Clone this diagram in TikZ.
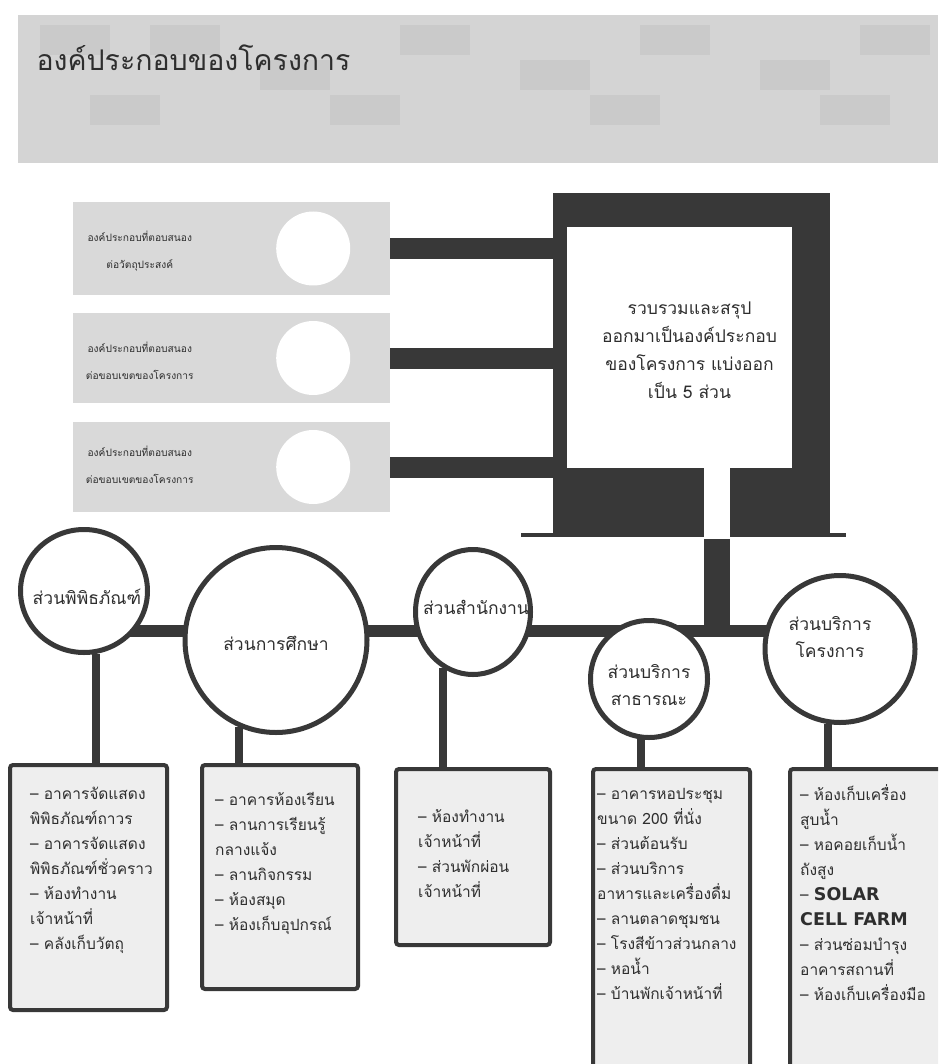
\documentclass[tikz,border=0pt]{standalone}
\usepackage{fontspec}
\newfontfamily\thaifont[Script=Thai]{Loma}
\newfontfamily\latinfont{DejaVu Sans}
\usetikzlibrary{calc,shapes.geometric}

\definecolor{darkfill}{HTML}{383838}
\definecolor{bandgrey}{HTML}{D4D4D4}
\definecolor{tilegrey}{HTML}{CACACA}
\definecolor{panegrey}{HTML}{D9D9D9}
\definecolor{boxgrey}{HTML}{EEEEEE}
\definecolor{inkgrey}{HTML}{2E2E2E}

\begin{document}
\begin{tikzpicture}[x=1pt,y=-1pt,
	bar/.style={draw=darkfill, line width=21pt},
	bus/.style={draw=darkfill, line width=12pt},
	stem/.style={draw=darkfill, line width=8pt},
	trunk/.style={draw=darkfill, line width=26pt},
	pane/.style={fill=panegrey, minimum width=317pt, inner sep=0pt},
	panetext/.style={text=inkgrey, align=center, font=\thaifont\fontsize{10.2}{27}\selectfont},
	part/.style={ellipse, draw=darkfill, line width=5pt, fill=white, inner sep=0pt},
	parttext/.style={text=inkgrey, align=center, font=\thaifont\fontsize{17.5}{27}\selectfont},
	listbox/.style={draw=darkfill, line width=4pt, fill=boxgrey, rounded corners=3pt, anchor=north, inner sep=0pt},
	listtext/.style={anchor=north west, align=left, inner sep=0pt, text=inkgrey, font=\thaifont\fontsize{15.5}{25}\selectfont}
	]
	\useasboundingbox (0,0) rectangle (938,1064);
	\clip (0,0) rectangle (938,1064);
	
	% Title band
	\fill[bandgrey] (18,15) rectangle (938,163);
	\foreach \x/\y in {40/25, 150/25, 260/60, 400/25, 520/60, 640/25, 760/60, 860/25, 90/95, 330/95, 590/95, 820/95}
		\fill[tilegrey] (\x,\y) rectangle ++(70,30);
	\node[anchor=west, text=inkgrey, font=\thaifont\fontsize{28.5}{34}\selectfont] (title) at (33,58) {องค์ประกอบของโครงการ};
	
	% Summary frame
	\fill[darkfill] (553,193) rectangle (830,533);
	\fill[darkfill] (521,533) rectangle (846,537);
	\node[fill=white, minimum width=225pt, minimum height=241pt, inner sep=0pt] (sum) at (679.5,347.5) {};
	\node[text=inkgrey, align=center, font=\thaifont\fontsize{17.5}{28}\selectfont] (sumtext) at ($(sum.center)+(10,3)$)
		{รวบรวมและสรุป\\ออกมาเป็นองค์ประกอบ\\ของโครงการ แบ่งออก\\เป็น 5 ส่วน};
	\fill[white] (704,468) rectangle (730,539);
	\coordinate (notch) at (717,539);
	
	% Left panes
	\node[pane, minimum height=93pt] (lb1) at (231.5,248.5) {};
	\node[pane, minimum height=90pt] (lb2) at (231.5,358) {};
	\node[pane, minimum height=90pt] (lb3) at (231.5,467) {};
	\foreach \n in {1,2,3} {
		\fill[white] ($(lb\n.east)+(-77,0)$) circle (37);
		\draw[bar] (lb\n.east) -- (lb\n.east -| sum.west);
	}
	\node[panetext] (lt1) at ($(lb1.west)+(67,3)$) {องค์ประกอบที่ตอบสนอง\\ต่อวัตถุประสงค์};
	\node[panetext] (lt2) at ($(lb2.west)+(67,3)$) {องค์ประกอบที่ตอบสนอง\\ต่อขอบเขตของโครงการ};
	\node[panetext] (lt3) at ($(lb3.west)+(67,-2)$) {องค์ประกอบที่ตอบสนอง\\ต่อขอบเขตของโครงการ};
	
	% Bus and trunk
	\coordinate (busL) at (84,631);
	\coordinate (busR) at (840,631);
	\draw[bus] (busL) -- (busR);
	\draw[trunk] (notch) -- (notch |- busL);
	
	% Parts
	\node[part, minimum width=127pt, minimum height=123pt] (c1) at (84,591) {};
	\node[part, minimum width=182pt, minimum height=185pt] (c2) at (276,640) {};
	\node[part, minimum width=115pt, minimum height=125pt] (c3) at (473,612) {};
	\node[part, minimum width=117pt, minimum height=117pt] (c4) at (649,679) {};
	\node[part, minimum width=150pt, minimum height=147pt] (c5) at (840,649) {};
	\node[parttext] (c1t) at ($(c1.center)+(3,6)$) {ส่วนพิพิธภัณฑ์};
	\node[parttext] (c2t) at ($(c2.center)+(0,3)$) {ส่วนการศึกษา};
	\node[parttext] (c3t) at ($(c3.center)+(3,-5)$) {ส่วนสำนักงาน};
	\node[parttext] (c4t) at ($(c4.center)+(0,6)$) {ส่วนบริการ\\สาธารณะ};
	\node[parttext] (c5t) at ($(c5.center)+(-10,-12)$) {ส่วนบริการ\\โครงการ};
	
	% Lists
	\node[listbox, minimum width=157pt, minimum height=245pt] (b1) at (88.5,763) {};
	\node[listbox, minimum width=156pt, minimum height=224pt] (b2) at (280,763) {};
	\node[listbox, minimum width=154pt, minimum height=176pt] (b3) at (473,767) {};
	\node[listbox, minimum width=157pt, minimum height=320pt] (b4) at (671.5,767) {};
	\node[listbox, minimum width=160pt, minimum height=320pt] (b5) at (870,767) {};
	\draw[stem] (c1.281) -- (c1.281 |- b1.north);
	\draw[stem] (c2.247) -- (c2.247 |- b2.north);
	\draw[stem] (c3.242) -- (c3.242 |- b3.north);
	\draw[stem] (c4.262) -- (c4.262 |- b4.north);
	\draw[stem] (c5.261) -- (c5.261 |- b5.north);
	
	\node[listtext] (t1) at ($(b1.north west)+(22,24)$)
		{– อาคารจัดแสดง\\พิพิธภัณฑ์ถาวร\\– อาคารจัดแสดง\\พิพิธภัณฑ์ชั่วคราว\\– ห้องทำงาน\\เจ้าหน้าที่\\– คลังเก็บวัตถุ};
	\node[listtext] (t2) at ($(b2.north west)+(15,29)$)
		{– อาคารห้องเรียน\\– ลานการเรียนรู้\\กลางแจ้ง\\– ลานกิจกรรม\\– ห้องสมุด\\– ห้องเก็บอุปกรณ์};
	\node[listtext] (t3) at ($(b3.north west)+(24,42)$)
		{– ห้องทำงาน\\เจ้าหน้าที่\\– ส่วนพักผ่อน\\เจ้าหน้าที่};
	\node[listtext] (t4) at ($(b4.north west)+(6,21)$)
		{– อาคารหอประชุม\\ขนาด 200 ที่นั่ง\\– ส่วนต้อนรับ\\– ส่วนบริการ\\อาหารและเครื่องดื่ม\\– ลานตลาดชุมชน\\– โรงสีข้าวส่วนกลาง\\– หอน้ำ\\– บ้านพักเจ้าหน้าที่};
	\node[listtext] (t5) at ($(b5.north west)+(12,17)$)
		{– ห้องเก็บเครื่อง\\สูบน้ำ\\– หอคอยเก็บน้ำ\\ถังสูง\\– {\latinfont\bfseries\fontsize{17.5}{25}\selectfont SOLAR}\\{\latinfont\bfseries\fontsize{17.5}{25}\selectfont CELL FARM}\\– ส่วนซ่อมบำรุง\\อาคารสถานที่\\– ห้องเก็บเครื่องมือ};
	
\end{tikzpicture}
\end{document}
